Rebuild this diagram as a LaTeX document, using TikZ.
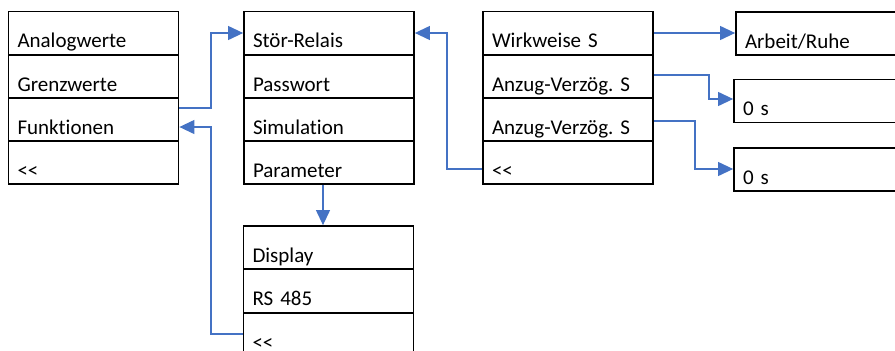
\documentclass[tikz,border=0pt]{standalone}
\usepackage{fontspec}
\setmainfont{Carlito}[Ligatures=NoCommon,WordSpace={0.75,0,0}]
\usetikzlibrary{arrows.meta}
\definecolor{conblue}{HTML}{4472C4}
\tikzset{
  row/.style={draw=black, line width=1.8pt, minimum width=170pt, text width=152pt,
    inner xsep=9pt, inner ysep=0pt, align=left, text height=36pt, text depth=7pt,
    minimum height=43pt, font=\fontsize{21}{25}\selectfont\frenchspacing, anchor=center},
  conn/.style={draw=conblue, line width=1.2pt, -{Triangle[length=15pt,width=14pt]}}
}
\begin{document}
\begin{tikzpicture}[x=1pt,y=-1pt]
\useasboundingbox (0,0) rectangle (895,351);
\clip (0,0) rectangle (895,351);
% box 1
\node[row] (b1a) at (93.5,33) {Analogwerte};
\node[row] (b1b) at (93.5,76.5) {Grenzwerte};
\node[row] (b1c) at (93.5,119.5) {Funktionen};
\node[row] (b1d) at (93.5,162.5) {<{}<};
% box 2
\node[row] (b2a) at (329,33) {Stör-Relais};
\node[row] (b2b) at (329,76.5) {Passwort};
\node[row] (b2c) at (329,119.5) {Simulation};
\node[row] (b2d) at (329,162.5) {Parameter};
% box 3
\node[row] (b3a) at (568,33) {Wirkweise S};
\node[row] (b3b) at (568,76.5) {Anzug-Verzög.~S};
\node[row] (b3c) at (568,119.5) {Anzug-Verzög.~S};
\node[row] (b3d) at (568,162.5) {<{}<};
% right boxes
\node[row] (b4) at (821,33.5) {Arbeit/Ruhe};
\node[row] (b5) at (819,101) {0 s};
\node[row] (b6) at (819,169.5) {0 s};
% box 7
\node[row] (b7a) at (328.5,247.5) {Display};
\node[row] (b7b) at (328.5,291) {RS 485};
\node[row] (b7c) at (328.5,334.5) {<{}<};
% connectors
\draw[conn] (b1c.east |- 0,108) -- (211,108) |- (b2a.west);
\draw[conn] (b7c.west |- 0,334) -- (211,334) |- (b1c.east |- 0,127);
\draw[conn] (b2d.south -| 323,0) -- (b7a.north -| 323,0);
\draw[conn] (b3d.west |- 0,169) -- (447,169) |- (b2a.east);
\draw[conn] (b3a.east) -- (b4.west |- b3a.east);
\draw[conn] (b3b.east |- 0,75) -- (709,75) |- (b5.west |- 0,99);
\draw[conn] (b3c.east |- 0,121) -- (695,121) |- (b6.west |- 0,169);
\end{tikzpicture}
\end{document}
